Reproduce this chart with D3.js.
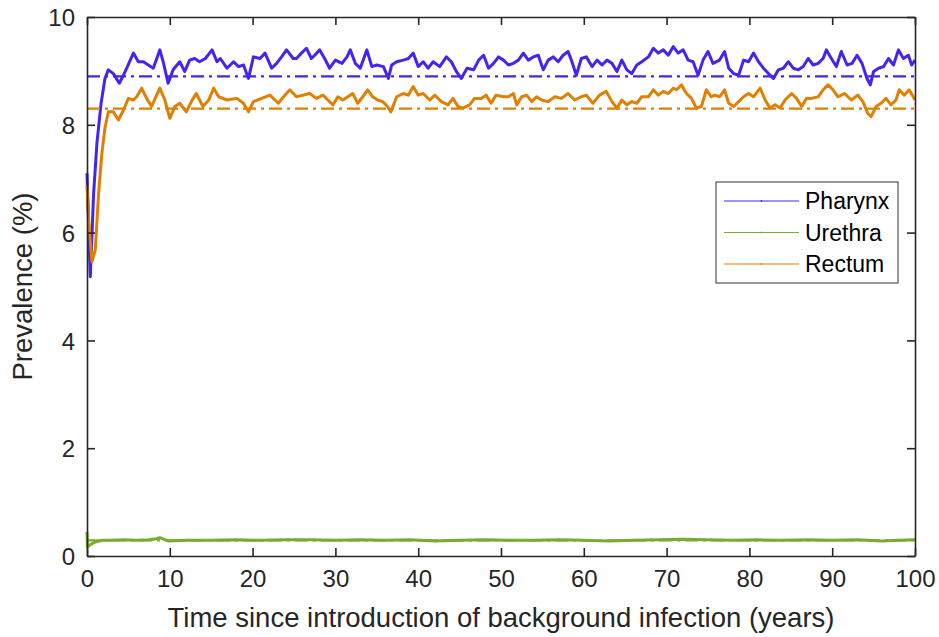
<!DOCTYPE html>
<html>
<head>
<meta charset="utf-8">
<script src="https://cdn.jsdelivr.net/npm/d3@7"></script>
<style>
  body { margin: 0; background: #fff; }
  svg { display: block; font-family: "Liberation Sans", Arial, sans-serif; }
</style>
</head>
<body>
<svg width="939" height="637"></svg>
<script>
// values (years, prevalence %)
const pharynxT = [0, 0.2, 0.4, 0.8, 1.2, 1.7, 2.17, 2.58, 3.18, 3.9, 4.4, 4.8, 5.6, 6.2, 6.8, 7.4, 8.0, 8.8, 9.2, 9.8, 10.4, 11.2, 11.8, 12.4, 13.0, 13.6, 14.3, 15.1, 15.7, 16.1, 16.9, 17.7, 18.3, 18.9, 19.5, 20.1, 20.9, 21.5, 22.3, 22.9, 23.5, 24.1, 24.9, 25.3, 25.9, 26.5, 27.1, 27.5, 28.1, 28.7, 29.3, 30.0, 30.8, 31.4, 31.8, 32.4, 33.0, 33.8, 34.4, 35.0, 35.8, 36.4, 36.8, 37.4, 38.2, 38.8, 39.4, 40.0, 40.6, 41.2, 41.8, 42.6, 43.4, 44.0, 44.6, 45.2, 45.9, 46.7, 47.3, 47.9, 48.5, 49.1, 49.7, 50.3, 50.9, 51.5, 52.1, 52.7, 53.3, 53.9, 54.5, 55.1, 55.7, 56.3, 56.9, 57.5, 58.1, 58.5, 59.1, 59.7, 60.3, 61.0, 61.6, 62.2, 62.8, 63.4, 64.0, 64.6, 65.2, 65.8, 66.4, 67.0, 67.8, 68.4, 69.0, 69.6, 70.2, 70.8, 71.4, 72.0, 72.6, 73.2, 73.8, 74.4, 75.0, 75.6, 76.4, 77.0, 77.5, 78.1, 78.7, 79.3, 79.9, 80.5, 81.1, 81.7, 82.3, 82.9, 83.5, 84.1, 84.7, 85.3, 85.9, 86.5, 87.1, 87.7, 88.3, 88.9, 89.3, 89.9, 90.5, 91.1, 91.8, 92.4, 93.0, 93.6, 94.2, 94.6, 95.0, 95.6, 96.2, 96.8, 97.4, 98.0, 98.6, 99.2, 99.6, 100];
const pharynxV = [7.1, 6.1, 5.18, 6.73, 7.66, 8.4, 8.86, 9.02, 8.95, 8.77, 8.92, 9.05, 9.33, 9.17, 9.17, 9.11, 9.05, 9.39, 9.17, 8.77, 9.02, 9.17, 8.99, 9.2, 9.23, 9.17, 9.23, 9.39, 9.17, 9.23, 9.05, 9.17, 9.08, 9.11, 8.86, 9.26, 9.23, 9.33, 9.05, 9.14, 9.26, 9.39, 9.23, 9.23, 9.33, 9.42, 9.23, 9.29, 9.39, 9.23, 9.05, 9.2, 9.14, 9.26, 9.39, 9.14, 9.05, 9.39, 9.08, 9.11, 9.08, 8.86, 9.11, 9.17, 9.2, 9.23, 9.33, 9.08, 9.17, 9.05, 9.17, 9.08, 9.26, 9.17, 8.99, 8.86, 9.05, 9.02, 9.2, 9.29, 9.05, 9.14, 9.26, 9.2, 9.11, 9.14, 9.2, 9.33, 9.2, 9.26, 9.29, 9.02, 9.2, 9.26, 9.17, 9.29, 9.36, 9.2, 8.92, 9.23, 9.26, 9.08, 9.2, 9.11, 9.2, 9.14, 8.99, 9.2, 9.02, 8.95, 9.11, 9.17, 9.26, 9.42, 9.33, 9.39, 9.29, 9.45, 9.33, 9.39, 9.2, 9.17, 8.92, 9.2, 9.36, 9.14, 9.2, 9.36, 9.05, 8.95, 8.92, 9.2, 9.17, 9.33, 9.17, 9.05, 8.95, 8.86, 9.02, 9.05, 9.17, 9.05, 9.02, 9.08, 9.23, 9.11, 9.14, 9.23, 9.39, 9.23, 9.08, 9.36, 9.11, 9.14, 9.29, 9.14, 8.86, 8.74, 8.99, 9.05, 9.08, 9.23, 9.11, 9.39, 9.23, 9.29, 9.11, 9.2];

const rectumT = [0, 0.2, 0.6, 1.0, 1.4, 1.8, 2.17, 2.58, 3.18, 3.8, 4.4, 5.0, 5.6, 6.0, 6.6, 7.2, 7.8, 8.8, 9.4, 10.0, 10.6, 11.2, 12.0, 12.6, 13.2, 14.0, 14.7, 15.3, 15.9, 16.9, 18.1, 18.9, 19.5, 20.1, 21.1, 22.1, 23.1, 23.9, 24.5, 25.3, 26.1, 26.9, 27.7, 28.5, 29.1, 29.7, 30.3, 30.9, 31.5, 32.1, 32.7, 33.3, 33.9, 34.5, 35.1, 35.7, 36.3, 36.7, 37.4, 38.2, 38.8, 39.4, 40.0, 40.6, 41.4, 42.0, 42.8, 43.6, 44.2, 44.8, 45.4, 46.2, 46.8, 47.6, 48.2, 48.8, 49.4, 50.3, 50.9, 51.5, 51.9, 52.5, 53.1, 53.7, 54.3, 54.9, 55.7, 56.5, 57.3, 58.1, 58.9, 59.7, 60.3, 61.1, 61.9, 62.7, 63.4, 64.0, 64.6, 65.2, 65.8, 66.4, 67.0, 67.8, 68.4, 69.0, 69.6, 70.2, 70.8, 71.2, 71.8, 72.4, 73.0, 73.6, 74.2, 74.8, 75.4, 75.8, 76.4, 77.0, 77.5, 78.1, 78.7, 79.3, 79.9, 80.5, 81.3, 81.9, 82.5, 83.1, 83.7, 84.3, 85.1, 85.7, 86.3, 86.9, 87.5, 88.3, 88.9, 89.5, 90.1, 90.7, 91.5, 92.3, 93.1, 93.7, 94.3, 94.7, 95.3, 95.9, 96.5, 97.1, 97.7, 98.1, 98.7, 99.3, 100];
const rectumV = [6.88, 6.23, 5.46, 5.68, 6.73, 7.48, 7.94, 8.24, 8.24, 8.09, 8.27, 8.49, 8.46, 8.52, 8.68, 8.49, 8.34, 8.68, 8.46, 8.12, 8.34, 8.4, 8.24, 8.43, 8.58, 8.34, 8.46, 8.68, 8.52, 8.46, 8.49, 8.4, 8.24, 8.43, 8.49, 8.55, 8.4, 8.55, 8.65, 8.52, 8.55, 8.58, 8.49, 8.55, 8.46, 8.37, 8.52, 8.46, 8.52, 8.58, 8.4, 8.52, 8.65, 8.52, 8.46, 8.43, 8.34, 8.24, 8.52, 8.58, 8.55, 8.71, 8.55, 8.58, 8.46, 8.55, 8.43, 8.37, 8.49, 8.34, 8.31, 8.37, 8.49, 8.49, 8.55, 8.4, 8.55, 8.52, 8.52, 8.58, 8.37, 8.52, 8.55, 8.43, 8.52, 8.46, 8.43, 8.52, 8.49, 8.58, 8.46, 8.52, 8.55, 8.4, 8.55, 8.62, 8.43, 8.31, 8.46, 8.37, 8.43, 8.4, 8.52, 8.52, 8.65, 8.55, 8.62, 8.58, 8.68, 8.65, 8.74, 8.58, 8.49, 8.31, 8.34, 8.65, 8.52, 8.55, 8.52, 8.65, 8.4, 8.34, 8.43, 8.52, 8.58, 8.52, 8.68, 8.46, 8.31, 8.37, 8.31, 8.46, 8.58, 8.49, 8.34, 8.49, 8.49, 8.52, 8.65, 8.74, 8.65, 8.52, 8.58, 8.46, 8.55, 8.43, 8.21, 8.15, 8.34, 8.4, 8.49, 8.37, 8.46, 8.65, 8.55, 8.65, 8.46];

const urethraT = [0, 0.05, 0.5, 1.0, 1.8, 3, 4.5, 6, 7.5, 8.4, 8.8, 9.3, 9.8, 12, 15, 18, 21, 24, 27, 30, 33, 36, 39, 42, 45, 48, 51, 54, 57, 60, 63, 66, 69, 72, 75, 78, 81, 84, 87, 90, 93, 96, 98, 100];
const urethraV = [0.45, 0.17, 0.22, 0.26, 0.29, 0.29, 0.3, 0.29, 0.3, 0.32, 0.34, 0.31, 0.28, 0.29, 0.29, 0.3, 0.29, 0.3, 0.3, 0.29, 0.3, 0.29, 0.3, 0.28, 0.29, 0.3, 0.29, 0.29, 0.3, 0.29, 0.28, 0.29, 0.3, 0.31, 0.3, 0.29, 0.3, 0.29, 0.3, 0.29, 0.3, 0.28, 0.29, 0.3];

// dash-dot reference levels
const refNames = ["Pharynx", "Urethra", "Rectum"];
const refLevels = [8.9, 0.29, 8.3];

const xTicks = [0, 10, 20, 30, 40, 50, 60, 70, 80, 90, 100];
const yTicks = [0, 2, 4, 6, 8, 10];

const seriesNames = ["Pharynx", "Urethra", "Rectum"];
const colors = ["#4424f2", "#77ac30", "#e07f00"];

const svg = d3.select("svg");
const margin = {top: 17, right: 24, bottom: 81, left: 87};
const width = 939 - margin.left - margin.right,
    height = 637 - margin.top - margin.bottom;

const g = svg.append("g")
    .attr("transform", `translate(${margin.left},${margin.top})`);

const x = d3.scaleLinear().domain([0, 100]).range([0, width]);
const y = d3.scaleLinear().domain([0, 10]).range([height, 0]);

const series = [
    pharynxT.map((t, i) => [t, pharynxV[i]]),
    urethraT.map((t, i) => [t, urethraV[i]]),
    rectumT.map((t, i) => [t, rectumV[i]])
];

const line = d3.line()
    .x(d => x(d[0]))
    .y(d => y(d[1]));

// data lines
g.selectAll(".series")
    .data(series)
    .join("path")
    .attr("class", "series")
    .attr("d", line)
    .attr("fill", "none")
    .attr("stroke", (d, i) => colors[i])
    .attr("stroke-width", 3)
    .attr("stroke-linejoin", "round");

// reference lines
g.selectAll(".ref")
    .data(refLevels)
    .join("line")
    .attr("class", "ref")
    .attr("x1", x(0))
    .attr("x2", x(100))
    .attr("y1", d => y(d))
    .attr("y2", d => y(d))
    .attr("stroke", (d, i) => colors[i])
    .attr("stroke-width", 2.2)
    .attr("stroke-dasharray", "13,5,3,5");

// axes with inward ticks on all four sides
const axisColor = "#262626";
const axBottom = g.append("g")
    .attr("transform", `translate(0,${height})`)
    .call(d3.axisBottom(x).tickValues(xTicks).tickSizeInner(-8).tickSizeOuter(0).tickPadding(14));
const axLeft = g.append("g")
    .call(d3.axisLeft(y).tickValues(yTicks).tickSizeInner(-8).tickSizeOuter(0).tickPadding(12));
const axTop = g.append("g")
    .call(d3.axisTop(x).tickValues(xTicks).tickSizeInner(-8).tickSizeOuter(0).tickFormat(""));
const axRight = g.append("g")
    .attr("transform", `translate(${width},0)`)
    .call(d3.axisRight(y).tickValues(yTicks).tickSizeInner(-8).tickSizeOuter(0).tickFormat(""));

[axBottom, axLeft, axTop, axRight].forEach(a => {
    a.selectAll("path").attr("stroke", axisColor).attr("stroke-width", 1.6);
    a.selectAll("line").attr("stroke", axisColor).attr("stroke-width", 1.6);
    a.selectAll("text")
        .attr("fill", axisColor)
        .style("font-size", "24px")
        .style("font-family", "'Liberation Sans', Arial, sans-serif");
});
axLeft.selectAll("text").attr("dy", "0.36em");

// axis labels
svg.append("text")
    .attr("x", margin.left + width / 2)
    .attr("y", 627)
    .attr("text-anchor", "middle")
    .attr("fill", axisColor)
    .style("font-size", "27.5px")
    .text("Time since introduction of background infection (years)");

svg.append("text")
    .attr("transform", `translate(32,${margin.top + height / 2}) rotate(-90)`)
    .attr("text-anchor", "middle")
    .attr("fill", axisColor)
    .style("font-size", "27.5px")
    .text("Prevalence (%)");

// legend
const legend = svg.append("g").attr("transform", "translate(716,182)");
legend.append("rect")
    .attr("width", 182)
    .attr("height", 101)
    .attr("fill", "#fff")
    .attr("stroke", "#333")
    .attr("stroke-width", 1);

const rows = legend.selectAll(".row")
    .data(seriesNames)
    .join("g")
    .attr("class", "row")
    .attr("transform", (d, i) => `translate(0,${19 + i * 31.5})`);
rows.append("line")
    .attr("x1", 8).attr("x2", 83)
    .attr("stroke", (d, i) => colors[i])
    .attr("stroke-width", 1.2);
rows.append("circle")
    .attr("cx", 45.5).attr("r", 0.9)
    .attr("fill", (d, i) => colors[i]);
rows.append("text")
    .attr("x", 89)
    .attr("dy", "0.36em")
    .attr("fill", "#000")
    .style("font-size", "23px")
    .text(d => d);
</script>
</body>
</html>
